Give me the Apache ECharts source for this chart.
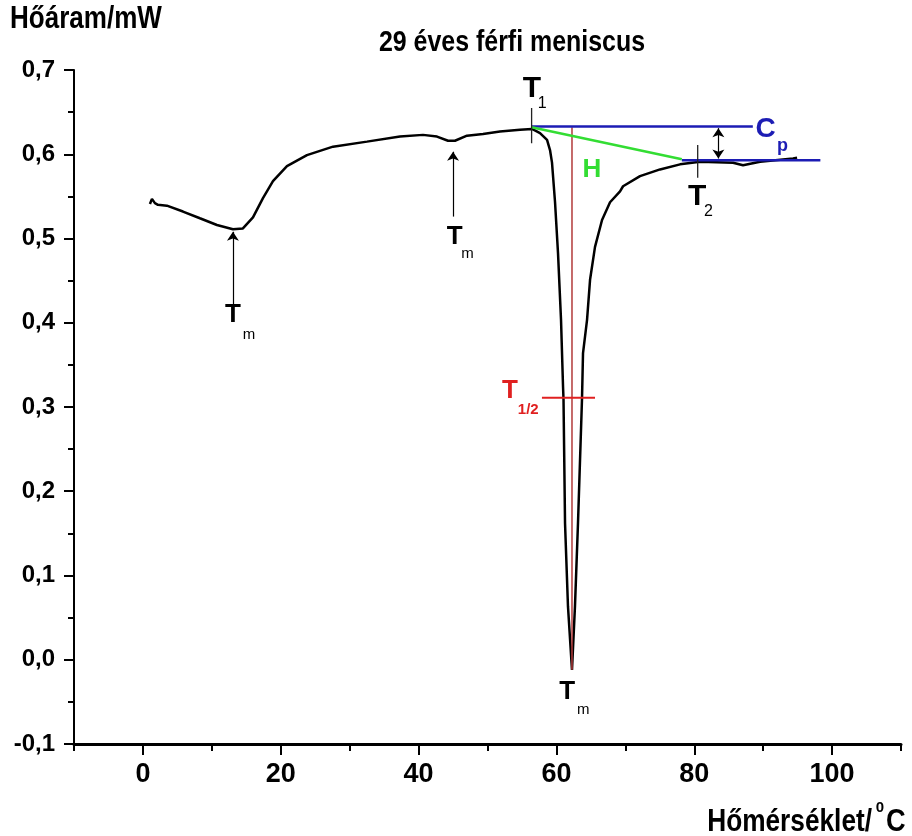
<!DOCTYPE html>
<html>
<head>
<meta charset="utf-8">
<script src="https://cdn.jsdelivr.net/npm/echarts@6/dist/echarts.min.js"></script>
<style>
html,body{margin:0;padding:0;background:#fff}
#chart{width:912px;height:836px}
</style>
</head>
<body>
<div id="chart"></div>
<script>
// 1. data
var tempC = [1.02, 1.31, 1.74, 2.18, 3.48, 5.81, 8.27, 10.74, 13.06, 14.51, 15.97, 17.42, 18.87, 20.90, 23.80, 27.58, 32.51, 37.30, 40.64, 42.67, 44.27, 45.28, 47.02, 49.35, 51.81, 54.72, 56.46, 57.62, 58.64, 59.07, 59.36, 59.80, 60.23, 60.67, 60.96, 61.03, 61.25, 61.68, 62.26, 62.69, 63.13, 63.71, 63.86, 64.44, 64.88, 65.60, 66.62, 67.78, 69.23, 69.67, 72.13, 75.04, 77.94, 80.84, 85.63, 87.08, 89.55, 94.34, 94.92];
var heatFlow = [0.541, 0.547, 0.542, 0.540, 0.539, 0.532, 0.524, 0.516, 0.511, 0.512, 0.525, 0.548, 0.568, 0.586, 0.599, 0.609, 0.615, 0.621, 0.623, 0.621, 0.616, 0.616, 0.622, 0.624, 0.627, 0.629, 0.630, 0.625, 0.617, 0.605, 0.590, 0.543, 0.483, 0.403, 0.324, 0.309, 0.162, 0.063, -0.012, 0.063, 0.162, 0.309, 0.364, 0.403, 0.451, 0.490, 0.522, 0.543, 0.556, 0.562, 0.574, 0.582, 0.588, 0.591, 0.590, 0.587, 0.591, 0.595, 0.596];

var xMajorTicks = [0, 20, 40, 60, 80, 100];
var xMinorTicks = [-10, 10, 30, 50, 70, 90, 110];

// annotation geometry (data units)
var cpUpper = [[56.4, 0.633], [88.5, 0.633]];
var cpLower = [[78.2, 0.593], [98.3, 0.593]];
var enthalpyLine = [[56.4, 0.632], [78.2, 0.594]];
var t1Mark = [[56.4, 0.655], [56.4, 0.613]];
var t2Mark = [[80.5, 0.611], [80.5, 0.572]];
var peakLine = [[62.26, 0.632], [62.26, -0.012]];
var halfLine = [[57.9, 0.311], [65.6, 0.311]];
var arrowsUp = [[[13.06, 0.415], [13.06, 0.508]], [[45.0, 0.526], [45.0, 0.603]]];
var cpArrow = [[83.5, 0.595], [83.5, 0.631]];

// text labels: [x, y, text, size, color, bold]
var notes = [
	[55.1, 0.678, 'T', 30, '#000', true], [57.3, 0.660, '1', 16, '#000', false],
	[79.1, 0.550, 'T', 30, '#000', true], [81.4, 0.532, '2', 16, '#000', false],
	[88.9, 0.630, 'C', 28, '#1c1cb4', true], [92.0, 0.610, 'p', 18, '#1c1cb4', true],
	[63.8, 0.582, 'H', 26, '#33dd33', true],
	[52.1, 0.319, 'T', 26, '#e02020', true], [54.4, 0.297, '1/2', 15, '#e02020', true],
	[11.9, 0.409, 'T', 26, '#000', true], [14.5, 0.386, 'm', 15, '#000', false],
	[44.1, 0.502, 'T', 26, '#000', true], [46.2, 0.482, 'm', 15, '#000', false],
	[60.4, -0.038, 'T', 26, '#000', true], [63.0, -0.059, 'm', 15, '#000', false]
];

var FONT = "'Liberation Sans', Arial, sans-serif";

var util = {
	seg : function(pts, color, width){
		return {
			type : 'line',
			data : pts,
			symbol : 'none',
			silent : true,
			lineStyle : {color : color, width : width},
			z : 3
		};
	},
	comma : function(v){
		return v.toFixed(1).replace('.', ',');
	}
};

var chart = echarts.init(document.getElementById('chart'));

var curve = [];
for(var i = 0; i < tempC.length; i++){
	curve.push([tempC[i], heatFlow[i]]);
}

var arrowData = [];
for(var j = 0; j < arrowsUp.length; j++){
	arrowData.push([{coord : arrowsUp[j][0], symbol : 'none'}, {coord : arrowsUp[j][1], symbol : 'arrow'}]);
}
arrowData.push([{coord : cpArrow[0], symbol : 'arrow'}, {coord : cpArrow[1], symbol : 'arrow'}]);

var option = {
	animation : false,
	backgroundColor : '#fff',
	grid : {left : 74, right : 11, top : 70, bottom : 92},
	xAxis : [{
		type : 'value',
		min : -10,
		max : 110,
		interval : 10,
		splitLine : {show : false},
		axisLine : {onZero : false, lineStyle : {color : '#000', width : 3}},
		axisTick : {customValues : xMajorTicks, length : 11, lineStyle : {color : '#000', width : 2}},
		axisLabel : {customValues : xMajorTicks, color : '#000', fontSize : 27, fontWeight : 'bold', fontFamily : FONT, margin : 17}
	}, {
		type : 'value',
		position : 'bottom',
		min : -10,
		max : 110,
		interval : 10,
		splitLine : {show : false},
		axisLine : {show : false, onZero : false},
		axisTick : {customValues : xMinorTicks, length : 7, lineStyle : {color : '#000', width : 2}},
		axisLabel : {show : false}
	}],
	yAxis : {
		type : 'value',
		min : -0.1,
		max : 0.7,
		interval : 0.1,
		splitLine : {show : false},
		axisLine : {onZero : false, lineStyle : {color : '#000', width : 2}},
		axisTick : {length : 10, lineStyle : {color : '#000', width : 2}},
		minorTick : {show : true, splitNumber : 2, length : 6, lineStyle : {color : '#000', width : 2}},
		axisLabel : {color : '#000', fontSize : 24, fontWeight : 'bold', fontFamily : FONT, margin : 19, formatter : util.comma}
	},
	series : [
		{
			type : 'line',
			data : curve,
			symbol : 'none',
			silent : true,
			lineStyle : {color : '#000', width : 2.5},
			z : 2,
			markLine : {
				silent : true,
				symbolSize : 9,
				label : {show : false},
				lineStyle : {color : '#000', width : 1.2, type : 'solid'},
				data : arrowData
			}
		},
		util.seg(peakLine, '#b23a3a', 1.5),
		util.seg(cpUpper, '#1c1cb4', 2.5),
		util.seg(cpLower, '#1c1cb4', 2.5),
		util.seg(enthalpyLine, '#33dd33', 2.5),
		util.seg(t1Mark, '#222', 1.3),
		util.seg(t2Mark, '#222', 1.3),
		util.seg(halfLine, '#e02020', 2)
	]
};

chart.setOption(option);

// 文字标注 — placed from data units
var graphics = [
	{type : 'text', x : 10, y : 19, scaleX : 0.84, style : {text : 'Hőáram/mW', font : 'bold 31px ' + FONT, fill : '#000', verticalAlign : 'middle'}},
	{type : 'text', x : 512, y : 43, scaleX : 0.86, style : {text : '29 éves férfi meniscus', font : 'bold 29px ' + FONT, fill : '#000', align : 'center', verticalAlign : 'middle'}},
	{type : 'text', x : 872, y : 822, scaleX : 0.82, style : {text : 'Hőmérséklet/', font : 'bold 32px ' + FONT, fill : '#000', align : 'right', verticalAlign : 'middle'}},
	{type : 'text', x : 880, y : 808, style : {text : '0', font : 'bold 15px ' + FONT, fill : '#000', align : 'center', verticalAlign : 'middle'}},
	{type : 'text', x : 886, y : 822, scaleX : 0.85, style : {text : 'C', font : 'bold 32px ' + FONT, fill : '#000', align : 'left', verticalAlign : 'middle'}}
];
for(var k = 0; k < notes.length; k++){
	var n = notes[k];
	var p = chart.convertToPixel({gridIndex : 0}, [n[0], n[1]]);
	graphics.push({
		type : 'text',
		x : p[0],
		y : p[1],
		style : {
			text : n[2],
			font : (n[5] ? 'bold ' : '') + n[3] + 'px ' + FONT,
			fill : n[4],
			align : 'left',
			verticalAlign : 'middle'
		},
		z : 10
	});
}
chart.setOption({graphic : graphics});
</script>
</body>
</html>
